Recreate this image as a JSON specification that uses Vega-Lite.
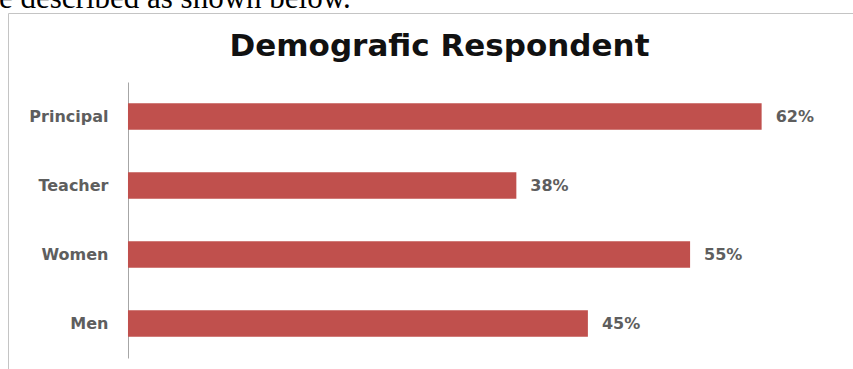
{
  "$schema": "https://vega.github.io/schema/vega-lite/v6.json",
  "autosize": {"type": "none"},
  "padding": {"left": 8, "top": 13, "right": 0, "bottom": 0},
  "width": 845,
  "height": 356,
  "background": "white",
  "title": {
    "text": "e described as shown below.",
    "anchor": "start",
    "frame": "group",
    "font": "Liberation Serif",
    "fontSize": 31,
    "fontWeight": "normal",
    "color": "black",
    "baseline": "alphabetic",
    "offset": 0,
    "dy": 26,
    "dx": -9
  },
  "config": {
    "view": {"stroke": "#c4c4c4", "strokeWidth": 1},
    "axis": {"grid": false}
  },
  "data": {
    "values": [
      {"group": "Principal", "value": 0.62},
      {"group": "Teacher", "value": 0.38},
      {"group": "Women", "value": 0.55},
      {"group": "Men", "value": 0.45}
    ]
  },
  "encoding": {
    "y": {
      "field": "group",
      "type": "nominal",
      "sort": null,
      "scale": {"range": [69, 345], "paddingInner": 0.616, "paddingOuter": 0.308},
      "axis": {
        "orient": "left",
        "offset": -120,
        "title": null,
        "ticks": false,
        "labelPadding": 20,
        "labelFont": "DejaVu Sans",
        "labelFontWeight": "bold",
        "labelFontSize": 16,
        "labelColor": "#5e5e5e",
        "domainColor": "#a6a6a6",
        "domainWidth": 1
      }
    },
    "x": {
      "field": "value",
      "type": "quantitative",
      "scale": {"domain": [-0.1174, 0.7094], "nice": false, "zero": false},
      "axis": {
        "orient": "top",
        "domain": false,
        "ticks": false,
        "labels": false,
        "grid": false,
        "title": "Demografic Respondent",
        "titleFont": "DejaVu Sans",
        "titleFontWeight": "bold",
        "titleFontSize": 31,
        "titleColor": "#111111",
        "titleX": 431,
        "titleY": 42,
        "titleAlign": "center",
        "titleBaseline": "alphabetic"
      }
    }
  },
  "layer": [
    {
      "mark": {"type": "bar", "color": "#C0504D"},
      "encoding": {
        "x2": {"datum": 0}
      }
    },
    {
      "mark": {
        "type": "text",
        "align": "left",
        "baseline": "middle",
        "dx": 14,
        "font": "DejaVu Sans",
        "fontWeight": "bold",
        "fontSize": 16,
        "color": "#5e5e5e"
      },
      "encoding": {
        "text": {"field": "value", "type": "quantitative", "format": ".0%"}
      }
    }
  ]
}
